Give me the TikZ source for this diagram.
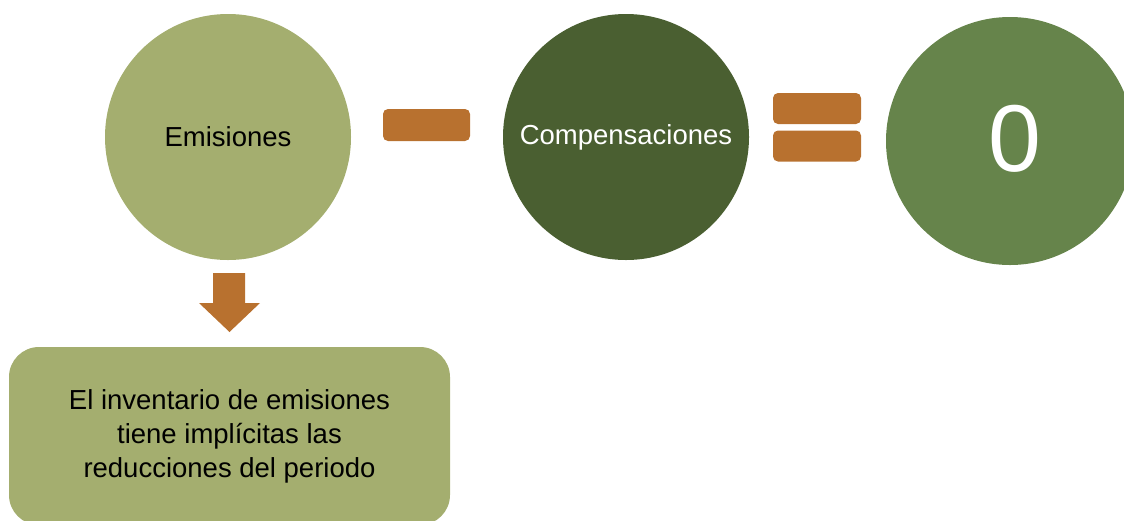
\documentclass[tikz,border=0pt]{standalone}
\usepackage{fontspec}
\setmainfont{Liberation Sans}
\usetikzlibrary{positioning}

\definecolor{olivelight}{HTML}{A4AE6F}
\definecolor{greendark}{HTML}{4A5F31}
\definecolor{greenmid}{HTML}{66844B}
\definecolor{copper}{HTML}{B8712F}

\tikzset{
  bubble/.style={circle, minimum size=246pt, inner sep=0pt, font=\fontsize{27.5}{33}\selectfont},
  bar/.style={fill=copper, rounded corners=5pt, minimum width=87pt, minimum height=32pt, inner sep=0pt},
  notebox/.style={fill=olivelight, rounded corners=30pt, minimum width=441pt, minimum height=178pt, align=center, font=\fontsize{27.5}{34}\selectfont},
}

\begin{document}
\begin{tikzpicture}[x=1pt,y=-1pt]
    \useasboundingbox (0,0) rectangle (1124,520);

    % draw circles
    \node[bubble, fill=olivelight] (emis) at (228,137) {Emisiones};
    \node[bubble, fill=greendark, text=white] (comp) at (626,137) {Compensaciones};
    \node[bubble, fill=greenmid, minimum size=248pt] (zero) at (1010,141) {};
    \node[text=white, font=\fontsize{95}{95}\selectfont] (zerotxt) at (1015,138.5) {0};

    % draw signs
    \node[bar] (minus) at (426.5,125) {};
    \foreach \y/\n in {108.5/eqtop, 146/eqbot}
    \node[bar, minimum width=88pt, minimum height=31pt] (\n) at (817,\y) {};

    % draw arrow
    \fill[copper] (213,273) -- (245,273) -- (245,303) -- (260,303) -- (229.5,332) -- (199,303) -- (213,303) -- cycle;

    % draw note
    \node[notebox] (note) at (229.5,436) {El inventario de emisiones\\tiene implícitas las\\reducciones del periodo};
\end{tikzpicture}
\end{document}
